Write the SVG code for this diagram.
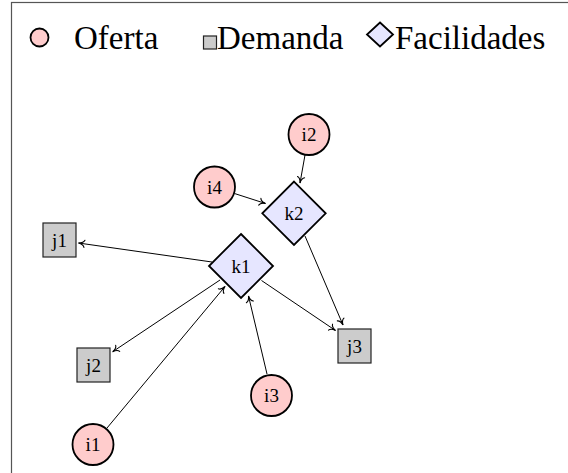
<svg xmlns="http://www.w3.org/2000/svg" width="568" height="473" viewBox="0 0 568 473">
  <defs>
    <marker id="arrow" markerUnits="userSpaceOnUse" markerWidth="12" markerHeight="12" viewBox="-8 -6 10 12" refX="0" refY="0" orient="auto" overflow="visible">
      <path d="M -6,-3.6 C -5.4,-1.6 -2.2,-0.3 0,0 C -2.2,0.3 -5.4,1.6 -6,3.6" fill="none" stroke="#000" stroke-width="1.1" stroke-linecap="round"/>
    </marker>
  </defs>
  <style>
    text { font-family: "Liberation Serif", "DejaVu Serif", serif; fill: #000; }
    .legend { font-size: 33px; }
    .lbl { font-size: 19px; text-anchor: middle; }
    .supply { fill: #ffcccc; stroke: #000; stroke-width: 1.8; }
    .demand { fill: #cccccc; stroke: #222; stroke-width: 1.2; }
    .facility { fill: #e6e6ff; stroke: #000; stroke-width: 1.8; stroke-linejoin: miter; }
    .edge { fill: none; stroke: #000; stroke-width: 1; marker-end: url(#arrow); }
  </style>

  <rect width="568" height="473" fill="#fff"/>
  <!-- frame (right and bottom sides run past the canvas) -->
  <rect x="11.5" y="2.5" width="570" height="490" fill="none" stroke="#555" stroke-width="1.2"/>

  <!-- legend -->
  <g id="legend">
    <circle class="supply" cx="39.5" cy="37.5" r="9"/>
    <text class="legend" x="74" y="49">Oferta</text>
    <rect class="demand" x="203.5" y="36" width="13" height="13"/>
    <text class="legend" x="217" y="49">Demanda</text>
    <polygon class="facility" points="380,22.5 393,34.5 380,46.5 367,34.5"/>
    <text class="legend" x="395" y="49">Facilidades</text>
  </g>

  <!-- connectors -->
  <g id="edges">
    <line class="edge" x1="305" y1="155" x2="300" y2="183"/>
    <line class="edge" x1="234.5" y1="193.5" x2="265.5" y2="203.5"/>
    <line class="edge" x1="305" y1="236" x2="343" y2="325"/>
    <line class="edge" x1="212" y1="262" x2="78.5" y2="243"/>
    <line class="edge" x1="220" y1="280" x2="112.7" y2="351.7"/>
    <line class="edge" x1="261.5" y1="280.5" x2="335.5" y2="330.5"/>
    <line class="edge" x1="107" y1="428" x2="225" y2="286.5"/>
    <line class="edge" x1="267" y1="374" x2="248.5" y2="296"/>
  </g>

  <!-- supply nodes -->
  <g id="i1">
    <circle class="supply" cx="93" cy="444.5" r="20.5"/>
    <text class="lbl" x="93" y="451">i1</text>
  </g>
  <g id="i2">
    <circle class="supply" cx="309" cy="134.5" r="20.5"/>
    <text class="lbl" x="309" y="141">i2</text>
  </g>
  <g id="i3">
    <circle class="supply" cx="271.5" cy="395.5" r="20.5"/>
    <text class="lbl" x="271.5" y="402">i3</text>
  </g>
  <g id="i4">
    <circle class="supply" cx="214.5" cy="187" r="20.5"/>
    <text class="lbl" x="214.5" y="193.5">i4</text>
  </g>

  <!-- facility nodes -->
  <g id="k1">
    <polygon class="facility" points="241,234 273,266 241,298 209,266"/>
    <text class="lbl" x="241" y="272.5">k1</text>
  </g>
  <g id="k2">
    <polygon class="facility" points="294,181.6 325.7,213.3 294,245 262.3,213.3"/>
    <text class="lbl" x="294" y="219.8">k2</text>
  </g>

  <!-- demand nodes -->
  <g id="j1">
    <rect class="demand" x="43" y="223" width="33" height="34"/>
    <text class="lbl" x="59.5" y="246.5">j1</text>
  </g>
  <g id="j2">
    <rect class="demand" x="77" y="348" width="33" height="34"/>
    <text class="lbl" x="93.5" y="371.5">j2</text>
  </g>
  <g id="j3">
    <rect class="demand" x="338" y="329" width="33" height="34"/>
    <text class="lbl" x="354.5" y="352.5">j3</text>
  </g>
</svg>
